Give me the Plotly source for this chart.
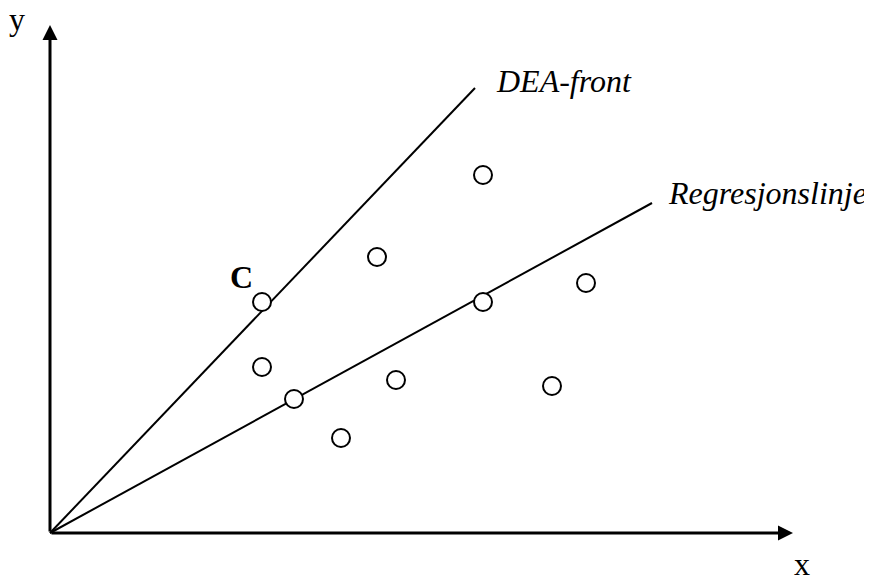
import plotly.graph_objects as go

# Data (abstract units, origin at 0,0)
pts_x = [21.2, 32.7, 43.3, 43.3, 53.6, 21.2, 24.4, 34.6, 50.2, 29.1]
pts_y = [23.1, 27.6, 35.8, 23.1, 25.0, 16.6, 13.4, 15.3, 14.7, 9.5]
dea_x = [0, 42.5]
dea_y = [0, 44.5]
reg_x = [0, 60.2]
reg_y = [0, 33.0]
axis_x_end = 74.3
axis_y_end = 50.8

FONT = "Liberation Serif, Times New Roman, serif"

fig = go.Figure()
fig.add_trace(go.Scatter(x=dea_x, y=dea_y, mode="lines",
                         line=dict(color="black", width=2), hoverinfo="skip"))
fig.add_trace(go.Scatter(x=reg_x, y=reg_y, mode="lines",
                         line=dict(color="black", width=2), hoverinfo="skip"))
fig.add_trace(go.Scatter(x=pts_x, y=pts_y, mode="markers",
                         marker=dict(symbol="circle", size=18, color="white",
                                     line=dict(color="black", width=2))))

# Axes with arrows
for (hx, hy) in [(axis_x_end, 0), (0, axis_y_end)]:
    fig.add_annotation(x=hx, y=hy, ax=0, ay=0, xref="x", yref="y",
                       axref="x", ayref="y", showarrow=True, text="",
                       arrowhead=2, arrowwidth=3, arrowsize=1, arrowcolor="black")

fig.add_annotation(x=-3.3, y=51.4, text="y", showarrow=False,
                   font=dict(family=FONT, size=32, color="black"))
fig.add_annotation(x=75.2, y=-3.1, text="x", showarrow=False,
                   font=dict(family=FONT, size=32, color="black"))
fig.add_annotation(x=19.1, y=25.6, text="<b>C</b>", showarrow=False,
                   font=dict(family=FONT, size=32, color="black"))
fig.add_annotation(x=44.4, y=45.2, text="<i>DEA-front</i>", showarrow=False,
                   xanchor="left", font=dict(family=FONT, size=32, color="black"))
fig.add_annotation(x=81.9, y=34.0, text="<i>Regresjonslinje</i>", showarrow=False,
                   xanchor="right", font=dict(family=FONT, size=32, color="black"))

fig.update_layout(width=864, height=567, margin=dict(l=0, r=0, t=0, b=0),
                  paper_bgcolor="white", plot_bgcolor="white", showlegend=False,
                  xaxis=dict(range=[-4.2, 82.2], visible=False, fixedrange=True),
                  yaxis=dict(range=[-4.2, 52.5], visible=False, fixedrange=True))

fig.write_html("out.html")
